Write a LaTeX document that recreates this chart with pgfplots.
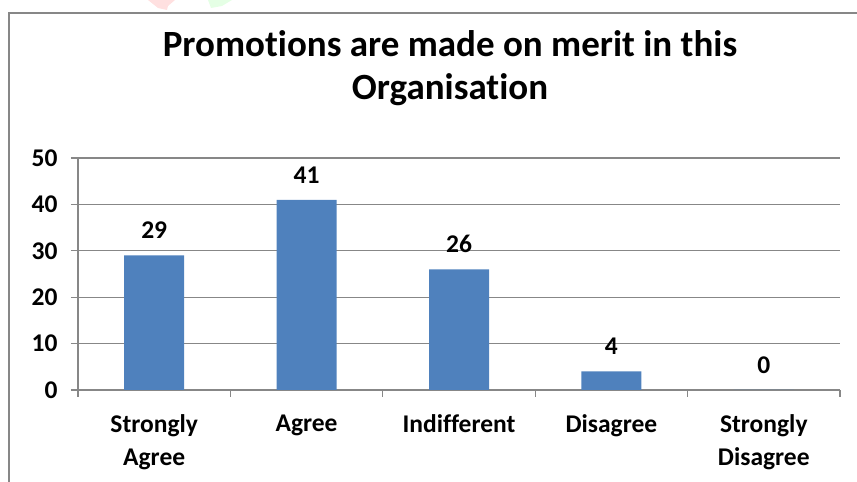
\documentclass[border=0pt]{standalone}
\usepackage{fontspec}
\setmainfont{Carlito}[Ligatures=NoCommon]
\usepackage{pgfplots}
\pgfplotsset{compat=1.18}
\definecolor{barblue}{HTML}{4F81BD}
\definecolor{axgray}{HTML}{878787}
\begin{document}
\begin{tikzpicture}[x=1bp,y=1bp]
\useasboundingbox (0,0) rectangle (857,482);
% faint watermark traces at the top edge
\fill[red!12] (148,482) -- (175,482) -- (168,476) -- (167,472) -- (158,474) -- cycle;
\fill[green!10] (208,482) -- (232,482) -- (222,476) -- (211,474) -- cycle;
% outer chart frame (cropped at right and bottom)
\draw[axgray, line width=1.6bp] (9,-2) -- (9,469) -- (860,469);
\node[font=\fontsize{37bp}{43bp}\selectfont\bfseries, align=center]
  at (450,414) {Promotions are made on merit in this\\Organisation};
\begin{axis}[
  at={(78bp,92bp)}, anchor=south west,
  width=762bp, height=232bp, scale only axis,
  xmin=-0.5, xmax=4.5, ymin=0, ymax=50,
  axis x line*=bottom, axis y line*=left,
  axis line style={axgray, line width=1.2bp},
  /pgf/number format/assume math mode=true,
  ytick={0,10,...,50},
  ymajorgrids, grid style={axgray, line width=1.2bp},
  xtick={0,...,4},
  xticklabels={{Strongly\\Agree},Agree,Indifferent,Disagree,{Strongly\\Disagree}},
  minor xtick={-0.5,0.5,...,4.5},
  tick align=outside,
  major tick length=7bp, minor tick length=7bp,
  tick style={axgray, line width=1.2bp},
  major x tick style={draw=none},
  ticklabel style={font=\fontsize{25.5bp}{33bp}\selectfont\bfseries},
  xticklabel style={align=center, anchor=north, yshift=-14bp},
  yticklabel style={anchor=east, xshift=-10bp},
  ybar, bar width=60bp,
  nodes near coords,
  nodes near coords style={font=\fontsize{25.5bp}{30bp}\selectfont\bfseries, yshift=13bp},
  clip=false,
]
\addplot[fill=barblue, draw=none] coordinates {(0,29)(1,41)(2,26)(3,4)(4,0)};
\end{axis}
\end{tikzpicture}
\end{document}
